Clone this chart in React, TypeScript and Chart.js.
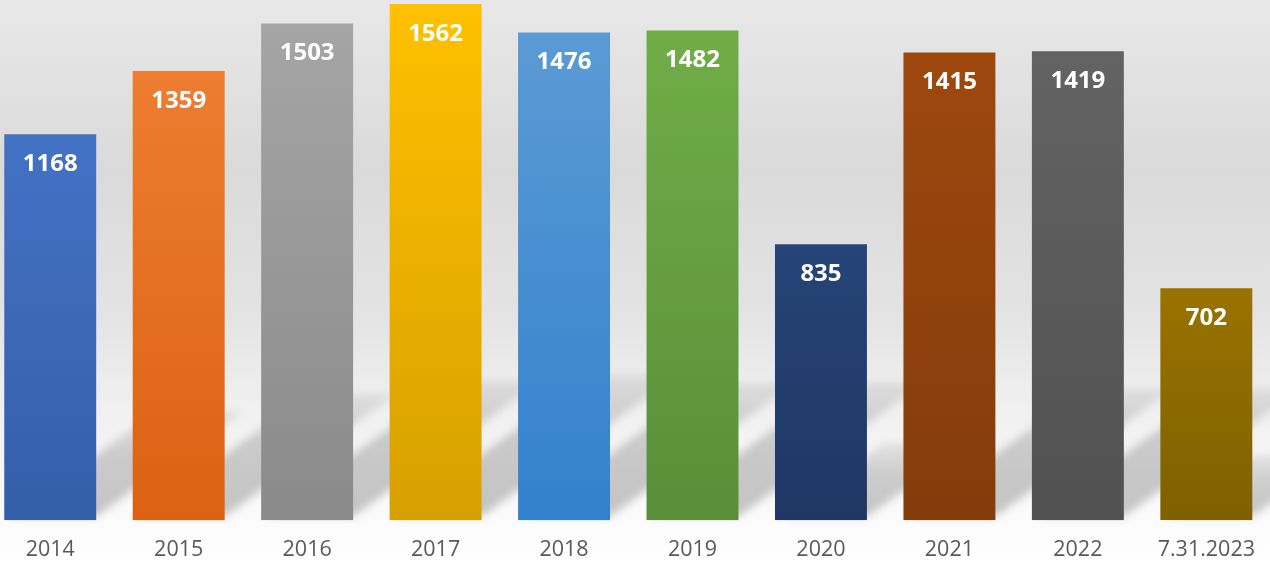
import React, { useEffect, useRef } from "react";
import { Chart, registerables } from "chart.js";

Chart.register(...registerables);

const categories = ["2014", "2015", "2016", "2017", "2018", "2019", "2020", "2021", "2022", "7.31.2023"];
const values = [1168, 1359, 1503, 1562, 1476, 1482, 835, 1415, 1419, 702];
const topColors = ["#4472c4", "#ed7d31", "#a5a5a5", "#ffc000", "#5b9bd5", "#70ad47", "#264478", "#9e480e", "#636363", "#997300"];
const bottomColors = ["#355ea8", "#dc6112", "#8a8a8a", "#d6a000", "#3381cc", "#5a8e39", "#1f3763", "#843c0c", "#515151", "#7f6000"];

const shadowPlugin = {
  id: "barShadows",
  beforeDraw(chart: any) {
    const { ctx, width } = chart;
    const height = 565;
    ctx.save();
    const g = ctx.createLinearGradient(0, 0, 0, height);
    g.addColorStop(0, "#e8e8e8");
    g.addColorStop(0.3, "#dadada");
    g.addColorStop(0.55, "#e3e3e3");
    g.addColorStop(0.72, "#f0f0f0");
    g.addColorStop(0.92, "#fbfbfb");
    g.addColorStop(1, "#ffffff");
    ctx.fillStyle = g;
    ctx.fillRect(0, 0, width, chart.height);
    ctx.restore();
  },
  beforeDatasetsDraw(chart: any) {
    const { ctx } = chart;
    const meta = chart.getDatasetMeta(0);
    ctx.save();
    ctx.filter = "blur(4px)";
    meta.data.forEach((bar: any) => {
      const { x, y, base, width } = bar.getProps(["x", "y", "base", "width"], true);
      const h = base - y;
      const dy = h * 0.28;
      const dx = dy / 0.74;
      const l = x - width / 2;
      const r = x + width / 2;
      const g = ctx.createLinearGradient(0, base, 0, base - dy);
      g.addColorStop(0, "rgba(0,0,0,0.22)");
      g.addColorStop(0.6, "rgba(0,0,0,0.17)");
      g.addColorStop(1, "rgba(0,0,0,0.07)");
      ctx.fillStyle = g;
      ctx.beginPath();
      ctx.moveTo(l + 6, base - 4);
      ctx.lineTo(r, base - 4);
      ctx.lineTo(r + dx, base - dy);
      ctx.lineTo(l + dx + 6, base - dy);
      ctx.closePath();
      ctx.fill();
    });
    ctx.restore();
  },
  afterDatasetsDraw(chart: any) {
    const { ctx } = chart;
    const meta = chart.getDatasetMeta(0);
    ctx.save();
    ctx.fillStyle = "#ffffff";
    ctx.font = "bold 24px 'Open Sans'";
    ctx.textAlign = "center";
    ctx.textBaseline = "middle";
    meta.data.forEach((bar: any, i: number) => {
      const { x, y } = bar.getProps(["x", "y"], true);
      ctx.fillText(String(values[i]), x, y + 30);
    });
    ctx.restore();
  },
};

export default function App() {
  const ref = useRef<HTMLCanvasElement>(null);
  useEffect(() => {
    if (!ref.current) return;
    const chart = new Chart(ref.current, {
      type: "bar",
      data: {
        labels: categories,
        datasets: [
          {
            data: values,
            categoryPercentage: 1,
            barPercentage: 0.7157,
            backgroundColor: (c: any) => {
              const i = c.dataIndex;
              const ch = c.chart;
              if (!ch.chartArea || !ch.scales || !ch.scales.y || i === undefined) return topColors[i ?? 0];
              const yTop = ch.scales.y.getPixelForValue(values[i]);
              const yBot = ch.scales.y.getPixelForValue(0);
              const g = ch.ctx.createLinearGradient(0, yTop, 0, yBot);
              g.addColorStop(0, topColors[i]);
              g.addColorStop(1, bottomColors[i]);
              return g;
            },
            borderWidth: 0,
          },
        ],
      },
      options: {
        animation: false,
        responsive: true,
        maintainAspectRatio: false,
        layout: { padding: { top: 0, bottom: 3, left: 0, right: 0 } },
        plugins: { legend: { display: false }, tooltip: { enabled: false } },
        scales: {
          x: {
            grid: { display: false, drawTicks: false },
            border: { display: false },
            ticks: { color: "#595959", font: { family: "'Open Sans'", size: 21.5 }, padding: 17, maxRotation: 0, autoSkip: false },
          },
          y: { display: false, min: 0, max: 1574 },
        },
      },
      plugins: [shadowPlugin],
    });
    return () => chart.destroy();
  }, []);
  return (
    <div style={{ position: "fixed", left: 0, top: 0, width: 1270, height: 565, overflow: "hidden", background: "#fff" }}>
      <div style={{ position: "absolute", left: -14, top: 0, width: 1286, height: 583 }}>
        <canvas ref={ref} />
      </div>
    </div>
  );
}
